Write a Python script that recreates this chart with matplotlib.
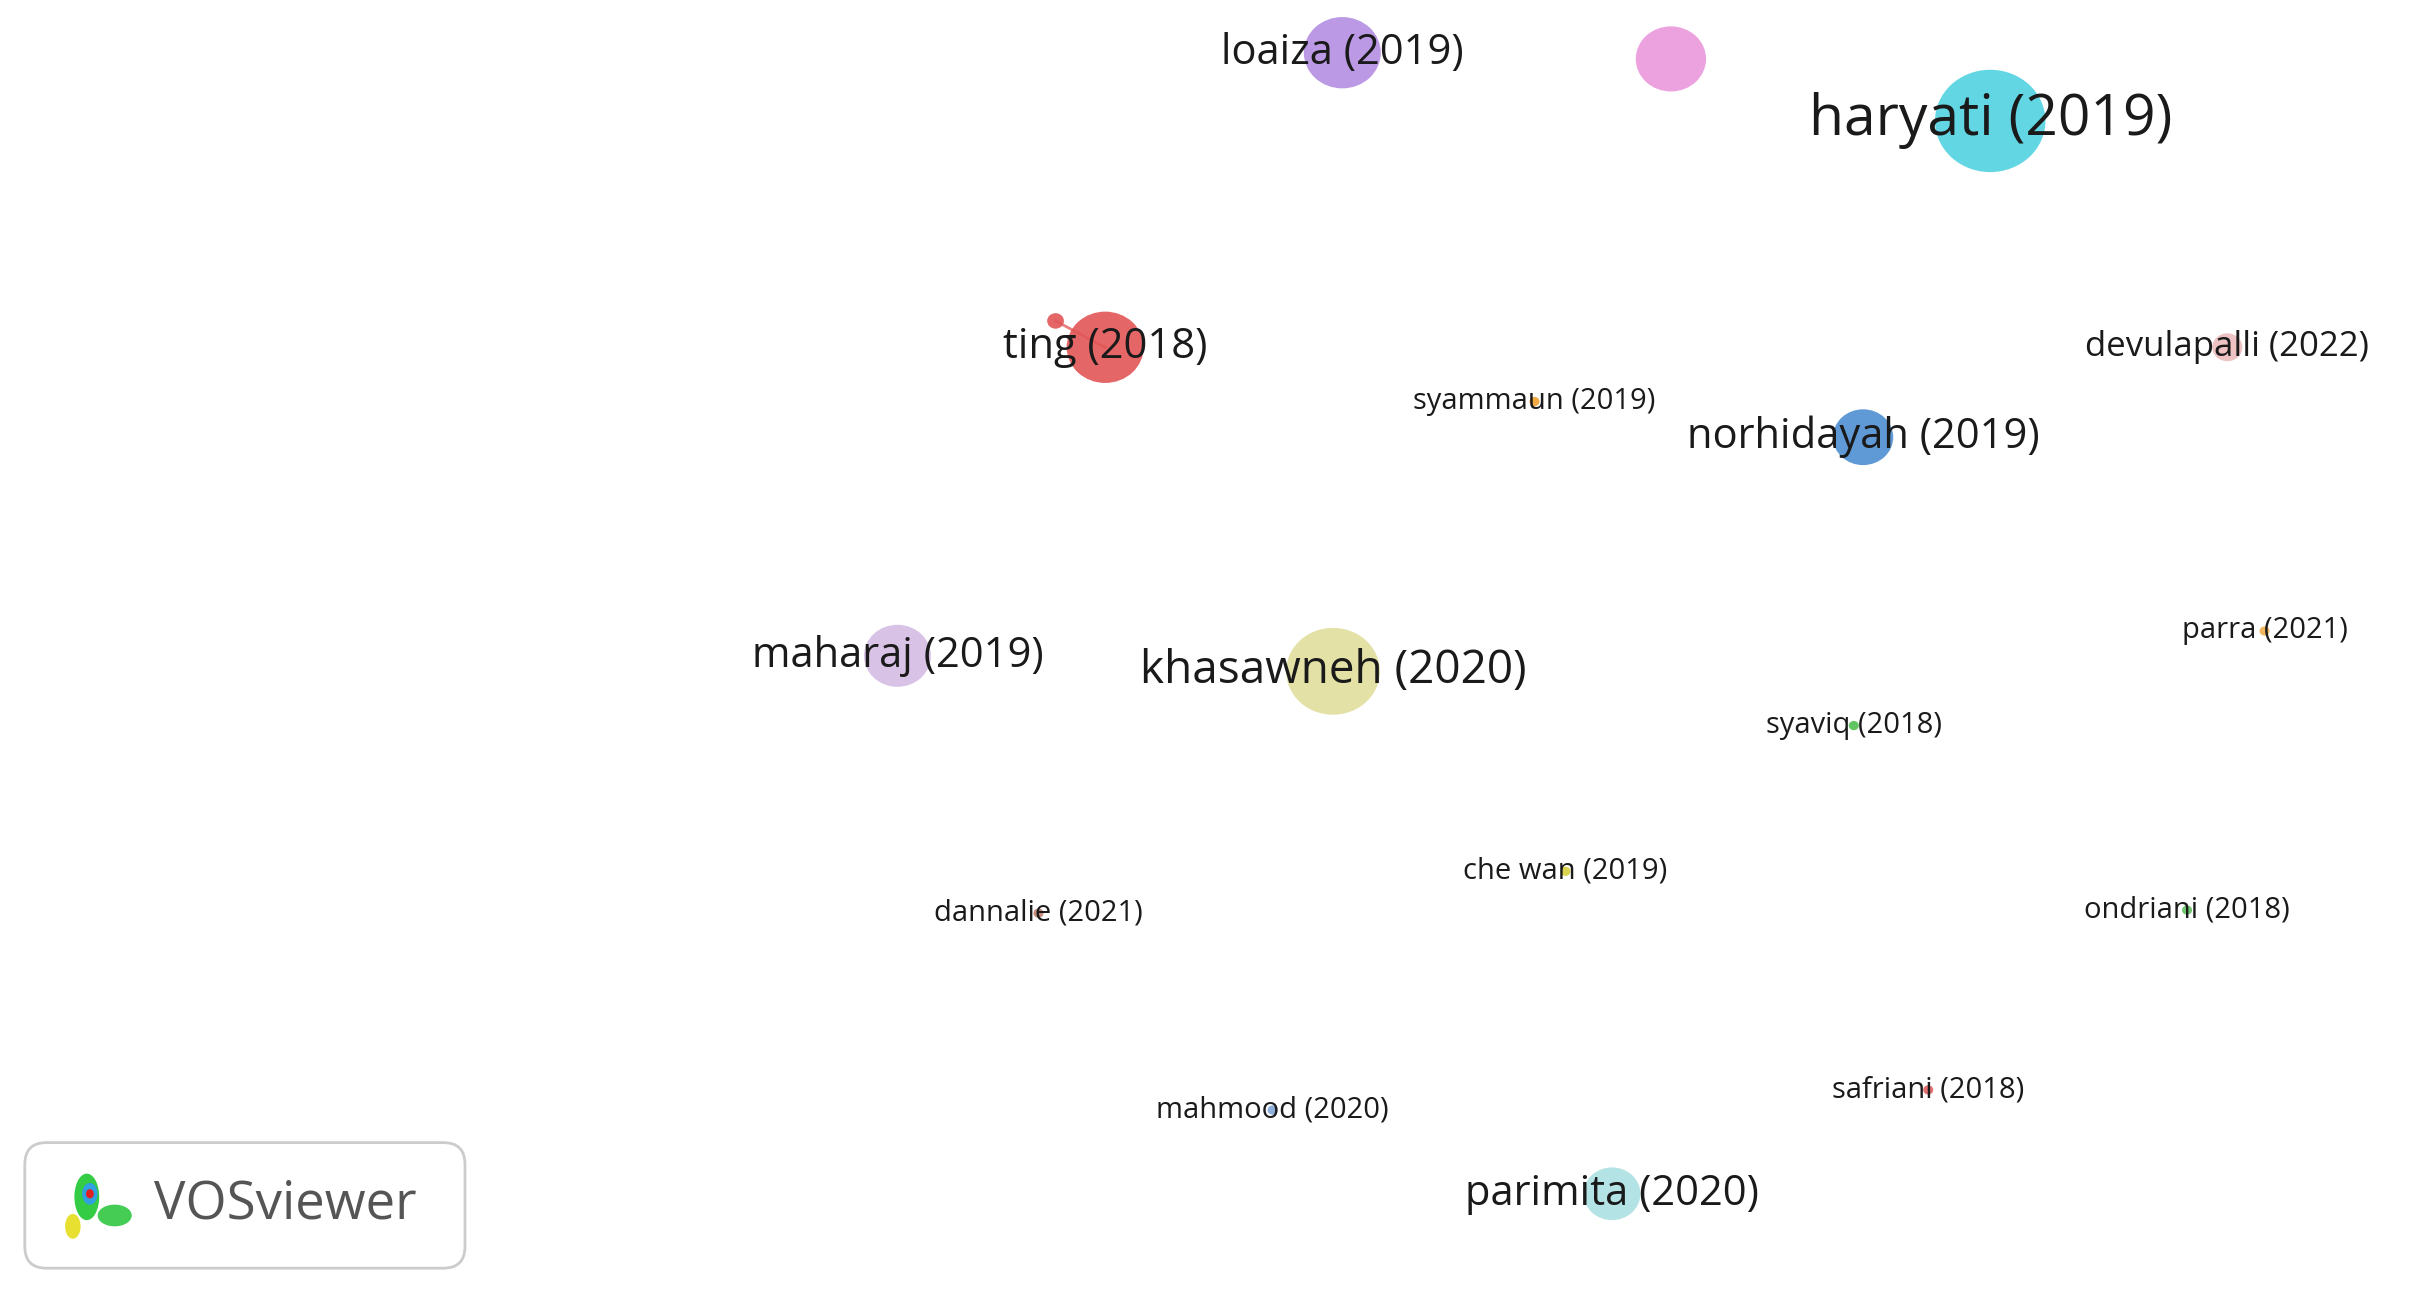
import matplotlib as mpl

mpl.use("Agg")
import matplotlib.pyplot as plt
from matplotlib.patches import FancyBboxPatch, Ellipse

# node data (map coords, y downward)
labels = ["loaiza (2019)", "", "haryati (2019)", "ting (2018)", "", "devulapalli (2022)",
          "syammaun (2019)", "norhidayah (2019)", "maharaj (2019)", "khasawneh (2020)",
          "parra (2021)", "syaviq (2018)", "che wan (2019)", "dannalie (2021)",
          "ondriani (2018)", "safriani (2018)", "mahmood (2020)", "parimita (2020)"]
xs = [866, 1078, 1284, 713, 681, 1437, 990, 1202, 579, 860, 1461, 1196, 1010, 670, 1411, 1244, 821, 1040]
ys = [34, 38, 78, 224, 207, 224, 259, 282, 423, 433, 407, 468, 562, 589, 587, 703, 716, 770]
radii = [23, 21, 33, 23, 5, 9, 3, 18, 20, 28, 3, 3, 3, 3, 3, 3, 3, 17]
colors = ["#b58ee2", "#ea98dc", "#52d2e2", "#e25555", "#e25555", "#ebbcbc",
          "#f0a030", "#4e8fd2", "#d4bde4", "#e0de9c", "#f0b050", "#50c050",
          "#d8d040", "#c08070", "#60c060", "#e06060", "#80a8d8", "#ace0e4"]
font_sizes = [30, 0, 41, 30, 0, 25, 21, 30, 30, 33, 21, 21, 21, 21, 21, 21, 21, 30]
links = [(3, 4)]


def main() -> None:
    fig = plt.figure(figsize=(24.18, 12.93), dpi=100)
    ax = fig.add_axes([0, 0, 1, 1])
    ax.set_xlim(0, 1560)
    ax.set_ylim(834, 0)
    ax.axis("off")

    for a, b in links:
        ax.plot([xs[a], xs[b]], [ys[a], ys[b]], color="#e88080", lw=2, zorder=1)

    for x, y, r, c in zip(xs, ys, radii, colors):
        ax.add_patch(Ellipse((x, y), 2 * r * 1.08, 2 * r, facecolor=c,
                             edgecolor="none", alpha=0.9, zorder=2))

    for lab, x, y, fs in zip(labels, xs, ys, font_sizes):
        if lab:
            ax.text(x, y, lab, ha="center", va="center", fontsize=fs,
                    family=["Open Sans", "DejaVu Sans"], color="#1a1a1a", zorder=3)

    # VOSviewer badge
    ax.add_patch(FancyBboxPatch((16, 737), 284, 81, boxstyle="round,pad=0,rounding_size=14",
                                facecolor="white", edgecolor="#cccccc", lw=2, zorder=4))
    for (lx, ly, lw, lh, lc) in [(56, 772, 16, 30, "#33cc44"), (74, 784, 22, 14, "#44cc55"),
                                 (47, 791, 10, 16, "#e8e030"), (58, 770, 10, 14, "#30a0e0"),
                                 (58, 770, 5, 6, "#e02020")]:
        ax.add_patch(Ellipse((lx, ly), lw, lh, facecolor=lc, edgecolor="none", zorder=5))
    ax.text(184, 777, "VOSviewer", ha="center", va="center", fontsize=38,
            family=["Open Sans", "DejaVu Sans"], color="#555555", zorder=5)

    fig.savefig("out.png", dpi=100)
    plt.close(fig)


if __name__ == "__main__":
    main()
